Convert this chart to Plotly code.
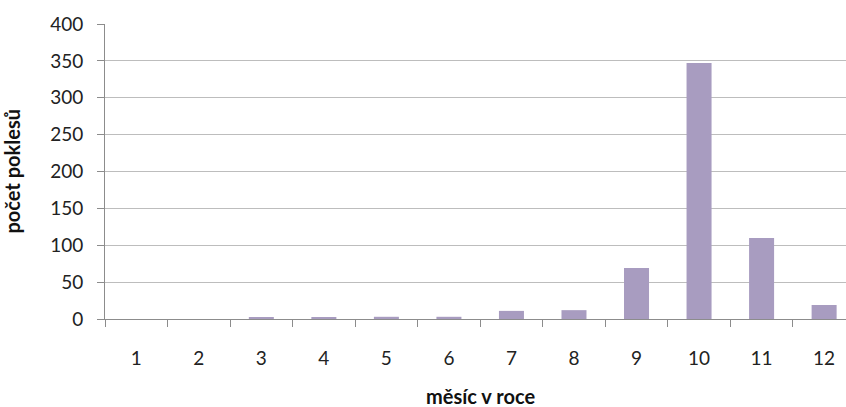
import plotly.graph_objects as go

months = [1, 2, 3, 4, 5, 6, 7, 8, 9, 10, 11, 12]
counts = [0, 0, 1.5, 1.5, 3, 3, 11, 12, 69, 347, 110, 19]
tick_labels = [str(m) for m in months]

bar_color = "#A89CC0"
font_family = "Lato, 'Open Sans', sans-serif"

fig = go.Figure(go.Bar(x=months, y=counts, marker=dict(color=bar_color, line=dict(width=0)), width=0.4))

fig.update_layout(
    width=846, height=407,
    margin=dict(l=105, r=0, t=24, b=88),
    paper_bgcolor="white", plot_bgcolor="white",
    showlegend=False,
    font=dict(family=font_family, size=19, color="#222"),
    xaxis=dict(
        range=[0.5, 12.35],
        tickvals=months, ticktext=tick_labels,
        ticks="", showgrid=False, zeroline=False,
        showline=True, linecolor="#8C8C8C", linewidth=1,
        ticklabelstandoff=22,
        minor=dict(tickmode="linear", tick0=0.5, dtick=1, ticks="outside", ticklen=7, tickcolor="#8C8C8C", showgrid=False),
        tickfont=dict(size=19),
    ),
    yaxis=dict(
        range=[0, 400], dtick=50,
        showgrid=True, gridcolor="#BDBDBD", gridwidth=1,
        zeroline=False,
        showline=True, linecolor="#8C8C8C", linewidth=1,
        ticks="outside", ticklen=7, tickcolor="#8C8C8C",
        ticklabelstandoff=10,
        tickfont=dict(size=19),
    ),
    annotations=[
        dict(text="<b>počet poklesů</b>", xref="paper", yref="paper", x=0, y=0.5,
             xanchor="center", yanchor="middle", textangle=-90, showarrow=False,
             font=dict(size=20, color="#111"), xshift=-94),
        dict(text="<b>měsíc v roce</b>", xref="paper", yref="paper", x=0.5, y=0,
             xanchor="center", yanchor="middle", showarrow=False,
             font=dict(size=20, color="#111"), yshift=-77, xshift=5),
    ],
)

fig.write_html("out.html")
